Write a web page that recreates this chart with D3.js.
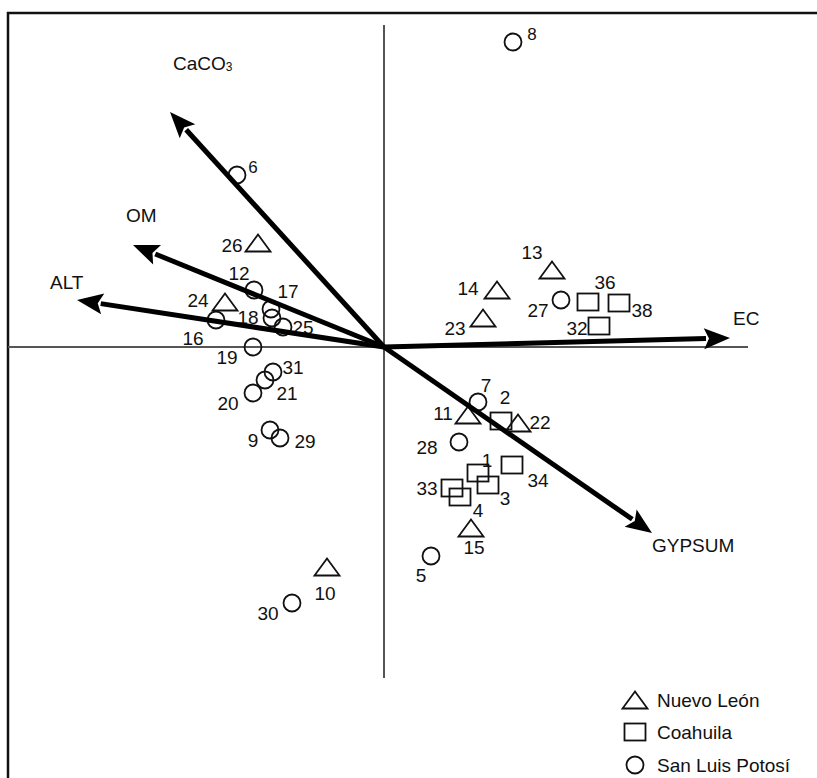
<!DOCTYPE html>
<html>
<head>
<meta charset="utf-8">
<script src="https://cdn.jsdelivr.net/npm/d3@7"></script>
<style>
  html, body { margin: 0; padding: 0; background: #fff; }
  svg { display: block; }
  text { font-family: "Liberation Sans", Arial, sans-serif; fill: #111; }
</style>
</head>
<body>
<svg id="chart" width="817" height="778"></svg>
<script>
// ---- Data (ordination scores) ----
const groups = ["Nuevo León", "Coahuila", "San Luis Potosí"];

const nuevoLeonIds = [26, 24, 13, 14, 23, 11, 22, 15, 10];
const nuevoLeonX   = [-1.26, -1.59, 1.68, 1.13, 0.99, 0.84, 1.34, 0.87, -0.57];
const nuevoLeonY   = [1.04, 0.45, 0.77, 0.57, 0.29, -0.68, -0.76, -1.81, -2.20];

const coahuilaIds = [36, 38, 32, 2, 1, 34, 33, 3, 4];
const coahuilaX   = [2.04, 2.35, 2.15, 1.17, 0.94, 1.28, 0.68, 1.04, 0.76];
const coahuilaY   = [0.45, 0.44, 0.21, -0.74, -1.26, -1.18, -1.41, -1.38, -1.50];

const slpIds = [8, 6, 12, 17, 18, 25, 16, 19, 31, 21, 20, 9, 29, 30, 27, 7, 28, 5];
const slpX   = [1.29, -1.47, -1.30, -1.13, -1.12, -1.01, -1.68, -1.31, -1.11, -1.19, -1.31, -1.14, -1.04, -0.92, 1.77, 0.94, 0.75, 0.47];
const slpY   = [3.05, 1.72, 0.57, 0.38, 0.29, 0.20, 0.27, 0.00, -0.25, -0.33, -0.46, -0.83, -0.91, -2.56, 0.47, -0.55, -0.95, -2.09];

const vectorNames = ["CaCO3", "OM", "ALT", "EC", "GYPSUM"];
const vectorX     = [-2.14, -2.51, -3.07, 3.46, 2.68];
const vectorY     = [2.35, 1.02, 0.47, 0.09, -1.86];

// ---- Layout (label placement offsets in px, not data) ----
const labelOffset = {
  6:[16,-8], 26:[-26,2], 12:[-15,-17], 17:[17,-18], 24:[-27,-2], 18:[-24,-1], 25:[20,0],
  16:[-23,18], 19:[-26,10], 31:[20,-5], 21:[22,13], 20:[-25,10], 9:[-17,10], 29:[25,3],
  10:[-2,26], 30:[-24,10], 8:[19,-8], 13:[-20,-18], 14:[-29,-2], 23:[-28,10], 27:[-23,10],
  36:[17,-20], 38:[23,7], 32:[-22,2], 7:[8,-17], 11:[-25,-2], 2:[4,-24], 22:[22,-1],
  28:[-32,5], 1:[9,-13], 34:[26,15], 33:[-25,0], 3:[17,13], 4:[18,13], 15:[3,19], 5:[-10,19]
};
const smallLabels = [6, 8];
const vectorLabelOffset = {
  CaCO3:[3,-49], OM:[-7,-30], ALT:[-27,-18], EC:[3,-20], GYPSUM:[0,12]
};

const svg = d3.select("#chart");
const x = d3.scaleLinear().domain([-3.76, 3.76]).range([8, 760]);
const y = d3.scaleLinear().domain([-3.34, 3.34]).range([681, 13]);

const FS = 19;

// frame (cropped on right & bottom)
svg.append("rect").attr("x", 8).attr("y", 13).attr("width", 830).attr("height", 800)
  .attr("fill", "none").attr("stroke", "#111").attr("stroke-width", 2.5);

// axes through origin
svg.append("line").attr("x1", x(-3.76)).attr("x2", x(3.64)).attr("y1", y(0)).attr("y2", y(0))
  .attr("stroke", "#555").attr("stroke-width", 2);
svg.append("line").attr("x1", x(0)).attr("x2", x(0)).attr("y1", y(3.22)).attr("y2", y(-3.31))
  .attr("stroke", "#555").attr("stroke-width", 2);

// symbols
function drawSymbol(g, type, cx, cy) {
  if (type === 0) {
    const w = 12.5, h = 8.5;
    g.append("path").attr("d", `M${cx},${cy-h}L${cx+w},${cy+h}L${cx-w},${cy+h}Z`)
      .attr("fill", "none").attr("stroke", "#111").attr("stroke-width", 1.8);
  } else if (type === 1) {
    g.append("rect").attr("x", cx-10.5).attr("y", cy-8.5).attr("width", 21).attr("height", 17)
      .attr("fill", "none").attr("stroke", "#111").attr("stroke-width", 1.8);
  } else {
    g.append("circle").attr("cx", cx).attr("cy", cy).attr("r", 8.5)
      .attr("fill", "none").attr("stroke", "#111").attr("stroke-width", 1.8);
  }
}

const pts = [];
nuevoLeonIds.forEach((id, i) => pts.push({id, x: nuevoLeonX[i], y: nuevoLeonY[i], g: 0}));
coahuilaIds.forEach((id, i) => pts.push({id, x: coahuilaX[i], y: coahuilaY[i], g: 1}));
slpIds.forEach((id, i) => pts.push({id, x: slpX[i], y: slpY[i], g: 2}));

const gp = svg.append("g");
pts.forEach(p => {
  const cx = x(p.x), cy = y(p.y);
  drawSymbol(gp, p.g, cx, cy);
  const off = labelOffset[p.id] || [15, -10];
  gp.append("text").attr("x", cx + off[0]).attr("y", cy + off[1])
    .attr("text-anchor", "middle").attr("dominant-baseline", "central")
    .attr("font-size", smallLabels.includes(p.id) ? 17 : FS).text(p.id);
});

// vectors (drawn over points)
const ga = svg.append("g");
vectorNames.forEach((name, i) => {
  const x0 = x(0), y0 = y(0), x1 = x(vectorX[i]), y1 = y(vectorY[i]);
  const dx = x1 - x0, dy = y1 - y0, L = Math.hypot(dx, dy);
  const ux = dx / L, uy = dy / L, hl = 26, hw = 10.5;
  const bx = x1 - ux * hl, by = y1 - uy * hl;
  ga.append("line").attr("x1", x0).attr("y1", y0).attr("x2", bx + ux * 2).attr("y2", by + uy * 2)
    .attr("stroke", "#000").attr("stroke-width", 5);
  ga.append("path")
    .attr("d", `M${x1},${y1}L${bx - uy*hw},${by + ux*hw}L${bx + ux*5},${by + uy*5}L${bx + uy*hw},${by - ux*hw}Z`)
    .attr("fill", "#000");
  const off = vectorLabelOffset[name];
  const t = ga.append("text").attr("x", x1 + off[0]).attr("y", y1 + off[1])
    .attr("dominant-baseline", "central").attr("font-size", FS);
  if (name === "CaCO3") {
    t.append("tspan").text("CaCO");
    t.append("tspan").attr("font-size", 12).attr("dy", 4).text("3");
  } else {
    t.text(name);
  }
});

// legend
const lg = svg.append("g");
const legendY = [700, 732, 765];
groups.forEach((name, i) => {
  drawSymbol(lg, i, 635, legendY[i]);
  lg.append("text").attr("x", 657).attr("y", legendY[i]).attr("dominant-baseline", "central")
    .attr("font-size", FS).text(name);
});
</script>
</body>
</html>
